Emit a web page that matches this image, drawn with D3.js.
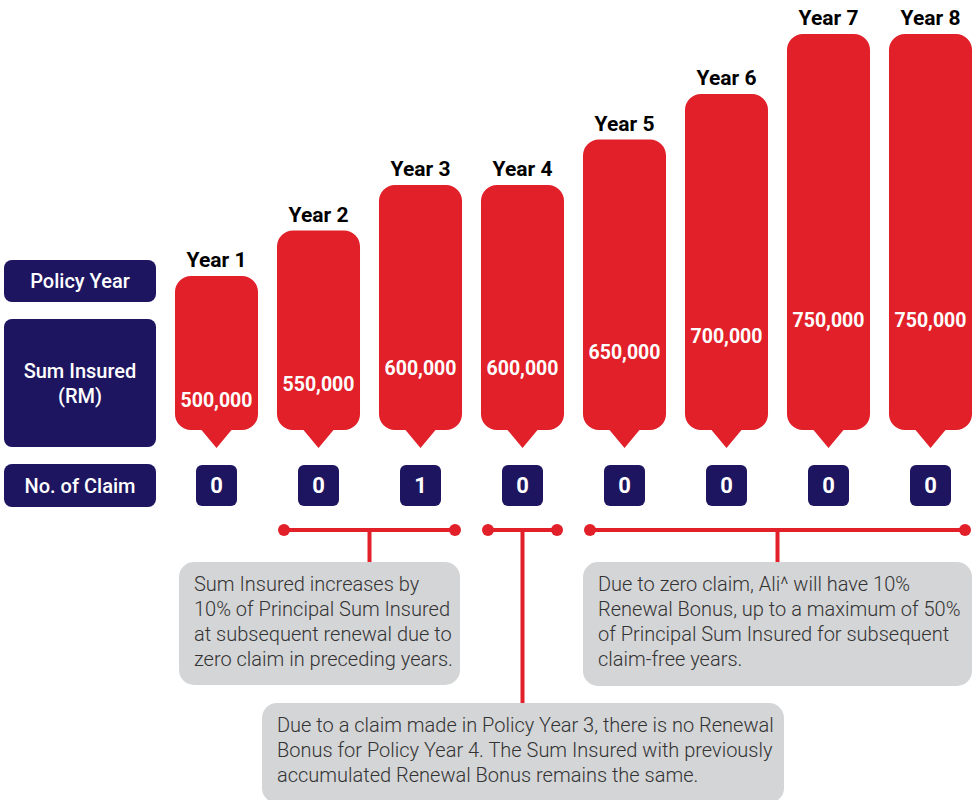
<!DOCTYPE html>
<html>
<head>
<meta charset="utf-8">
<script src="https://cdn.jsdelivr.net/npm/d3@7"></script>
<style>
  body { margin: 0; background: #fff; }
  svg { display: block; font-family: Roboto, "Noto Sans", sans-serif; }
</style>
</head>
<body>
<div id="vis"></div>
<script>
var w = 978;
var h = 800;

// data
var years = ["Year 1", "Year 2", "Year 3", "Year 4", "Year 5", "Year 6", "Year 7", "Year 8"];
var sumInsured = [500000, 550000, 600000, 600000, 650000, 700000, 750000, 750000];
var claims = [0, 0, 1, 0, 0, 0, 0, 0];
var rowLabels = [["Policy Year"], ["Sum Insured", "(RM)"], ["No. of Claim"]];

// brackets: first year, last year, note lines
var noteFrom = [1, 3, 4];
var noteTo = [2, 3, 7];
var noteText = [
  ["Sum Insured increases by", "10% of Principal Sum Insured", "at subsequent renewal due to", "zero claim in preceding years."],
  ["Due to a claim made in Policy Year 3, there is no Renewal", "Bonus for Policy Year 4. The Sum Insured with previously", "accumulated Renewal Bonus remains the same."],
  ["Due to zero claim, Ali^ will have 10%", "Renewal Bonus, up to a maximum of 50%", "of Principal Sum Insured for subsequent", "claim-free years."]
];

var red = "#e1202a";
var navy = "#1d1560";
var grey = "#d4d5d7";

var svg = d3.select("#vis")
  .append("svg")
  .attr("width", w)
  .attr("height", h);

var x = d3.scaleBand()
  .domain(years)
  .range([165.5, 981.5])
  .paddingInner(0.186)
  .paddingOuter(0.093);

// the last step is drawn taller in the original, so the scale bends there
var y = d3.scaleLinear()
  .domain([500000, 700000, 750000])
  .range([276, 94, 34]);

// where the value label sits inside the bar
var yLabel = d3.scaleLinear()
  .domain([500000, 750000])
  .range([400, 320]);

var barBottom = 430;
var fmt = d3.format(",");

// rounded bar with a little pointer at the bottom
function bubble(x0, x1, top, bottom) {
  var r = 16, pw = 15, ph = 18;
  var cx = (x0 + x1) / 2;
  var p = d3.path();
  p.moveTo(x0 + r, top);
  p.lineTo(x1 - r, top);
  p.arcTo(x1, top, x1, top + r, r);
  p.lineTo(x1, bottom - r);
  p.arcTo(x1, bottom, x1 - r, bottom, r);
  p.lineTo(cx + pw, bottom);
  p.lineTo(cx, bottom + ph);
  p.lineTo(cx - pw, bottom);
  p.lineTo(x0 + r, bottom);
  p.arcTo(x0, bottom, x0, bottom - r, r);
  p.lineTo(x0, top + r);
  p.arcTo(x0, top, x0 + r, top, r);
  p.closePath();
  return p.toString();
}

// row labels on the left
var rowBoxes = [[260, 302], [319, 447], [464, 507]];
rowLabels.forEach(function(lines, i) {
  var b = rowBoxes[i];
  svg.append("rect")
    .attr("x", 4)
    .attr("y", b[0])
    .attr("width", 152)
    .attr("height", b[1] - b[0])
    .attr("rx", 8)
    .attr("fill", navy);
  var mid = (b[0] + b[1]) / 2;
  lines.forEach(function(t, j) {
    svg.append("text")
      .text(t)
      .attr("x", 80)
      .attr("y", mid + (j - (lines.length - 1) / 2) * 25)
      .attr("dy", "0.36em")
      .attr("text-anchor", "middle")
      .attr("fill", "white")
      .style("font-size", "20px")
      .style("font-weight", 500);
  });
});

var bars = svg.selectAll(".bar")
  .data(years)
  .enter()
  .append("g")
  .attr("class", "bar");

bars.append("path")
  .attr("d", function(d, i) {
    return bubble(x(d), x(d) + x.bandwidth(), y(sumInsured[i]), barBottom);
  })
  .attr("fill", red);

bars.append("text")
  .text(function(d) { return d; })
  .attr("x", function(d) { return x(d) + x.bandwidth() / 2; })
  .attr("y", function(d, i) { return y(sumInsured[i]) - 9; })
  .attr("text-anchor", "middle")
  .attr("fill", "black")
  .style("font-size", "21px")
  .style("font-weight", 700);

bars.append("text")
  .text(function(d, i) { return fmt(sumInsured[i]); })
  .attr("x", function(d) { return x(d) + x.bandwidth() / 2; })
  .attr("y", function(d, i) { return yLabel(sumInsured[i]); })
  .attr("dy", "0.36em")
  .attr("text-anchor", "middle")
  .attr("fill", "white")
  .style("font-size", "19.5px")
  .style("font-weight", 700);

// claim counters
bars.append("rect")
  .attr("x", function(d) { return x(d) + x.bandwidth() / 2 - 20.5; })
  .attr("y", 465)
  .attr("width", 41)
  .attr("height", 41)
  .attr("rx", 6)
  .attr("fill", navy);

bars.append("text")
  .text(function(d, i) { return claims[i]; })
  .attr("x", function(d) { return x(d) + x.bandwidth() / 2; })
  .attr("y", 485.5)
  .attr("dy", "0.36em")
  .attr("text-anchor", "middle")
  .attr("fill", "white")
  .style("font-size", "22px")
  .style("font-weight", 700);

// notes with brackets
var lineY = 530;
var noteBoxes = [
  {x: 179, y: 562, w: 281, h: 123},
  {x: 262, y: 703, w: 522, h: 100},
  {x: 583, y: 562, w: 389, h: 124}
];

noteText.forEach(function(lines, i) {
  var x0 = x(years[noteFrom[i]]) + 7;
  var x1 = x(years[noteTo[i]]) + x.bandwidth() - 7;
  var xm = (x0 + x1) / 2;
  var b = noteBoxes[i];

  svg.append("rect")
    .attr("x", b.x)
    .attr("y", b.y)
    .attr("width", b.w)
    .attr("height", b.h)
    .attr("rx", 15)
    .attr("fill", grey);

  svg.append("line")
    .attr("x1", x0).attr("x2", x1)
    .attr("y1", lineY).attr("y2", lineY)
    .attr("stroke", red)
    .attr("stroke-width", 4);
  svg.append("line")
    .attr("x1", xm).attr("x2", xm)
    .attr("y1", lineY).attr("y2", b.y)
    .attr("stroke", red)
    .attr("stroke-width", 4);
  [x0, x1].forEach(function(cx) {
    svg.append("circle")
      .attr("cx", cx)
      .attr("cy", lineY)
      .attr("r", 6)
      .attr("fill", red);
  });

  lines.forEach(function(t, j) {
    svg.append("text")
      .text(t)
      .attr("x", b.x + 15)
      .attr("y", b.y + 29 + j * 25)
      .attr("fill", "#333")
      .style("font-size", "20px")
      .style("font-weight", 300);
  });
});
</script>
</body>
</html>
